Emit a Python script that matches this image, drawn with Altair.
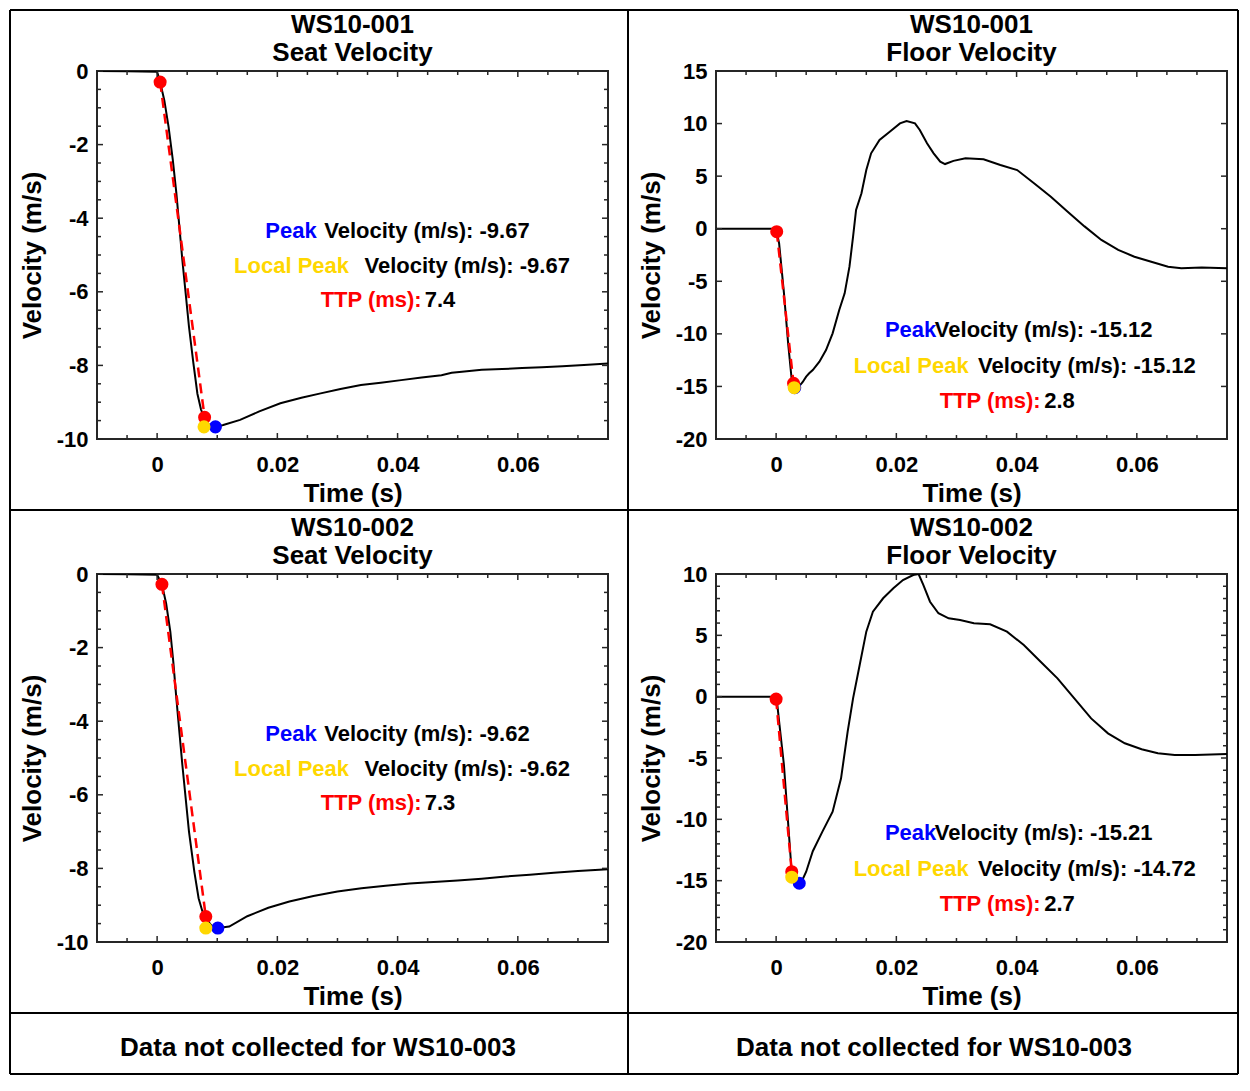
import altair as alt
import pandas as pd

FONT = "Liberation Sans"
BLUE = "#0000FF"
GOLD = "#FFD700"
RED = "#FF0000"
AXC = "#262626"

W, H = 511, 368

# ---------------- data ----------------
X_DOMAIN = [-0.01, 0.075]
X_MAJOR = [0.0, 0.02, 0.04, 0.06]
X_MINOR = [-0.005, 0.005, 0.01, 0.015, 0.025, 0.03, 0.035, 0.045, 0.05, 0.055, 0.065, 0.07]

SEAT_Y_MAJOR = [0, -2, -4, -6, -8, -10]
SEAT_Y_MINOR = [-0.5, -1, -1.5, -2.5, -3, -3.5, -4.5, -5, -5.5, -6.5, -7, -7.5, -8.5, -9, -9.5]
FLOOR1_Y_MAJOR = [15, 10, 5, 0, -5, -10, -15, -20]
FLOOR2_Y_MAJOR = [10, 5, 0, -5, -10, -15, -20]
FLOOR2_Y_MINOR = [9, 8, 7, 6, 4, 3, 2, 1, -1, -2, -3, -4, -6, -7, -8, -9, -11, -12, -13, -14, -16, -17, -18, -19]

SEAT1_T = [-0.0100, -0.0050, 0.0000, 0.0005, 0.0012, 0.0019, 0.0026, 0.0032, 0.0042, 0.0053,
           0.0060, 0.0067, 0.0073, 0.0078, 0.0085, 0.0097, 0.0110, 0.0138, 0.0170, 0.0205,
           0.0240, 0.0272, 0.0305, 0.0339, 0.0372, 0.0406, 0.0440, 0.0473, 0.0490, 0.0507,
           0.0540, 0.0574, 0.0607, 0.0640, 0.0674, 0.0710, 0.0750]
SEAT1_V = [0.00, -0.01, -0.02, -0.30, -0.80, -1.51, -2.40, -3.32, -5.14, -6.95,
           -7.90, -8.77, -9.20, -9.41, -9.60, -9.67, -9.62, -9.48, -9.25, -9.03,
           -8.88, -8.76, -8.64, -8.53, -8.47, -8.40, -8.33, -8.27, -8.20, -8.17,
           -8.12, -8.10, -8.07, -8.05, -8.02, -7.99, -7.95]

SEAT2_T = [-0.0100, -0.0050, 0.0000, 0.0008, 0.0015, 0.0022, 0.0027, 0.0032, 0.0042, 0.0053,
           0.0062, 0.0069, 0.0075, 0.0081, 0.0090, 0.0101, 0.0120, 0.0150, 0.0185, 0.0220,
           0.0260, 0.0300, 0.0340, 0.0380, 0.0420, 0.0460, 0.0500, 0.0540, 0.0580, 0.0620,
           0.0660, 0.0700, 0.0750]
SEAT2_V = [0.00, -0.01, -0.02, -0.28, -0.80, -1.57, -2.40, -3.38, -5.19, -7.00,
           -8.10, -8.81, -9.15, -9.35, -9.55, -9.62, -9.58, -9.30, -9.07, -8.90,
           -8.75, -8.63, -8.54, -8.47, -8.41, -8.37, -8.33, -8.28, -8.22, -8.17,
           -8.12, -8.07, -8.02]

FLOOR1_T = [-0.0100, 0.0000, 0.0001, 0.0005, 0.0013, 0.0020, 0.0026, 0.0029, 0.0031, 0.0038,
            0.0044, 0.0050, 0.0055, 0.0061, 0.0072, 0.0083, 0.0094, 0.0105, 0.0114, 0.0122,
            0.0128, 0.0133, 0.0142, 0.0150, 0.0158, 0.0172, 0.0189, 0.0206, 0.0217, 0.0231,
            0.0239, 0.0251, 0.0262, 0.0273, 0.0281, 0.0295, 0.0315, 0.0345, 0.0373, 0.0401,
            0.0429, 0.0457, 0.0485, 0.0513, 0.0541, 0.0569, 0.0596, 0.0624, 0.0652, 0.0674,
            0.0708, 0.0750]
FLOOR1_V = [0.00, 0.00, -0.28, -1.40, -6.10, -10.90, -14.40, -14.80, -15.12, -15.00,
            -14.60, -14.07, -13.75, -13.44, -12.65, -11.54, -9.95, -7.73, -6.15, -3.61,
            -0.76, 1.78, 3.37, 5.58, 7.17, 8.44, 9.23, 10.02, 10.24, 10.02,
            9.39, 8.12, 7.17, 6.38, 6.15, 6.45, 6.70, 6.60, 6.06, 5.58,
            4.32, 3.05, 1.62, 0.22, -1.07, -2.02, -2.66, -3.14, -3.61, -3.77,
            -3.68, -3.77]

FLOOR2_T = [-0.0100, 0.0000, 0.0001, 0.0005, 0.0013, 0.0019, 0.0025, 0.0027, 0.0032, 0.00385,
            0.0045, 0.0050, 0.0061, 0.0077, 0.0094, 0.0108, 0.0119, 0.0128, 0.0139, 0.0150,
            0.0161, 0.0178, 0.0195, 0.0211, 0.0228, 0.0237, 0.0245, 0.0256, 0.0270, 0.0287,
            0.0306, 0.0329, 0.0356, 0.0384, 0.0412, 0.0440, 0.0468, 0.0496, 0.0524, 0.0552,
            0.0580, 0.0608, 0.0635, 0.0663, 0.0697, 0.0750]
FLOOR2_V = [0.00, 0.00, -0.20, -2.04, -5.57, -9.65, -13.70, -14.50, -15.00, -15.21,
            -14.80, -14.27, -12.60, -11.00, -9.38, -6.66, -2.85, -0.14, 2.58, 5.30,
            6.93, 8.02, 8.83, 9.51, 9.92, 10.00, 9.10, 7.74, 6.80, 6.39,
            6.25, 5.98, 5.90, 5.30, 4.21, 2.85, 1.49, -0.14, -1.77, -2.99,
            -3.80, -4.29, -4.62, -4.76, -4.76, -4.67]

# markers: red onset/peak-time points, local peak (yellow), peak (blue)
SEAT1_RED_T, SEAT1_RED_V = [0.0005, 0.0079], [-0.30, -9.41]
SEAT1_LOCAL, SEAT1_PEAK = (0.0078, -9.67), (0.0097, -9.67)
FLOOR1_RED_T, FLOOR1_RED_V = [0.0001, 0.0029], [-0.28, -14.70]
FLOOR1_LOCAL, FLOOR1_PEAK = (0.0030, -15.12), (0.0031, -15.12)
SEAT2_RED_T, SEAT2_RED_V = [0.0008, 0.0081], [-0.28, -9.31]
SEAT2_LOCAL, SEAT2_PEAK = (0.0081, -9.62), (0.0101, -9.62)
FLOOR2_RED_T, FLOOR2_RED_V = [0.0000, 0.0026], [-0.20, -14.27]
FLOOR2_LOCAL, FLOOR2_PEAK = (0.0026, -14.72), (0.00385, -15.21)

# reported values
PEAK_VALUES = [-9.67, -15.12, -9.62, -15.21]
LOCAL_VALUES = [-9.67, -15.12, -9.62, -14.72]
TTP_VALUES = [7.4, 2.8, 7.3, 2.7]

# annotation anchors (left edges, data coords)
SEAT_TEXT_T = [0.0180, 0.0278, 0.0128, 0.0345, 0.0272, 0.0445]
SEAT_TEXT_V = [-4.35, -4.35, -5.30, -5.30, -6.22, -6.22]
FLOOR_TEXT_T = [0.0181, 0.0264, 0.0129, 0.0336, 0.0272, 0.0446]
FLOOR1_TEXT_V = [-9.63, -9.63, -13.06, -13.06, -16.39, -16.39]
FLOOR2_TEXT_V = [-11.11, -11.11, -14.05, -14.05, -16.90, -16.90]

TITLES = [["WS10-001", "Seat Velocity"], ["WS10-001", "Floor Velocity"],
          ["WS10-002", "Seat Velocity"], ["WS10-002", "Floor Velocity"]]
MISSING_TEXT = ["Data not collected for WS10-003", "Data not collected for WS10-003"]

ONE = pd.DataFrame({"k": [0]})


def axis_x():
    return alt.Axis(values=X_MAJOR, title="Time (s)", labelExpr="'' + datum.value",
                    ticks=False, domain=False, grid=False,
                    labelFont=FONT, labelFontSize=22, labelFontWeight="bold", labelColor="black",
                    labelPadding=15, labelFlush=False, labelOverlap=False,
                    titleFont=FONT, titleFontSize=26, titleFontWeight="bold", titleColor="black",
                    titlePadding=5)


def axis_y(vals):
    return alt.Axis(values=vals, title="Velocity (m/s)", labelExpr="'' + datum.value",
                    ticks=False, domain=False, grid=False,
                    labelFont=FONT, labelFontSize=22, labelFontWeight="bold", labelColor="black",
                    labelPadding=9, labelFlush=False, labelOverlap=False,
                    titleFont=FONT, titleFontSize=26, titleFontWeight="bold", titleColor="black",
                    titlePadding=11)


def panel(idx, t, v, red_t, red_v, local_pt, peak_pt, ydom, ymaj, ymin, text_t, text_v, extra=None):
    xs = alt.Scale(domain=X_DOMAIN, nice=False, zero=False)
    ys = alt.Scale(domain=ydom, nice=False, zero=False)
    X = lambda: alt.X("t:Q", scale=xs, axis=axis_x())
    Y = lambda: alt.Y("v:Q", scale=ys, axis=axis_y(ymaj))
    layers = []
    curve = pd.DataFrame({"t": t, "v": v})
    layers.append(alt.Chart(curve).mark_line(color="black", strokeWidth=2, clip=True).encode(x=X(), y=Y()))
    ttp_df = pd.DataFrame({"t": red_t, "v": red_v})
    layers.append(alt.Chart(ttp_df).mark_line(color=RED, strokeWidth=2.5, strokeDash=[10, 6]).encode(x=X(), y=Y()))
    pts = pd.DataFrame({
        "t": [peak_pt[0], red_t[0], red_t[1], local_pt[0]],
        "v": [peak_pt[1], red_v[0], red_v[1], local_pt[1]],
        "c": [BLUE, RED, RED, GOLD]})
    layers.append(alt.Chart(pts).mark_circle(size=170, opacity=1).encode(
        x=X(), y=Y(), color=alt.Color("c:N", scale=None)))
    txt = pd.DataFrame({
        "t": text_t, "v": text_v,
        "s": ["Peak", f"Velocity (m/s): {PEAK_VALUES[idx]:.2f}",
              "Local Peak", f"Velocity (m/s): {LOCAL_VALUES[idx]:.2f}",
              "TTP (ms):", f"{TTP_VALUES[idx]:.1f}"],
        "c": [BLUE, "black", GOLD, "black", RED, "black"]})
    layers.append(alt.Chart(txt).mark_text(align="left", baseline="middle", font=FONT,
                                           fontSize=22, fontWeight="bold").encode(
        x=X(), y=Y(), text="s:N", color=alt.Color("c:N", scale=None)))
    # inward ticks on all four sides
    for vals, ln in ((X_MAJOR, 6), (X_MINOR, 4)):
        base = alt.Chart(pd.DataFrame({"t": vals})).mark_rule(color=AXC, strokeWidth=1.5)
        layers.append(base.encode(x=X(), y=alt.value(H), y2=alt.value(H - ln)))
        layers.append(base.encode(x=X(), y=alt.value(0), y2=alt.value(ln)))
    for vals, ln in ((ymaj, 6), (ymin, 4)):
        if not vals:
            continue
        base = alt.Chart(pd.DataFrame({"v": vals})).mark_rule(color=AXC, strokeWidth=1.5)
        layers.append(base.encode(y=Y(), x=alt.value(0), x2=alt.value(ln)))
        layers.append(base.encode(y=Y(), x=alt.value(W), x2=alt.value(W - ln)))
    # two-line title
    for line, yy in zip(TITLES[idx], (-46, -18)):
        layers.append(alt.Chart(pd.DataFrame({"s": [line]})).mark_text(
            align="center", baseline="middle", font=FONT, fontSize=26, fontWeight="bold", color="black"
        ).encode(text="s:N", x=alt.value(W / 2), y=alt.value(yy)))
    if extra:
        layers.extend(extra)
    return alt.layer(*layers).properties(width=W, height=H)


def hline(y, x1, x2):
    return alt.Chart(ONE).mark_rule(color="black", strokeWidth=2).encode(
        x=alt.value(x1), x2=alt.value(x2), y=alt.value(y))


def vline(x, y1, y2):
    return alt.Chart(ONE).mark_rule(color="black", strokeWidth=2).encode(
        y=alt.value(y1), y2=alt.value(y2), x=alt.value(x))


# table frame (relative to the first panel's plot area) and the empty third row
LEFT, TOP, RIGHT, BOTTOM = -87, -61, 1141, 1003
frame = [vline(LEFT, TOP, BOTTOM), vline(531, TOP, BOTTOM), vline(RIGHT, TOP, BOTTOM),
         hline(TOP, LEFT, RIGHT), hline(439, LEFT, RIGHT), hline(942, LEFT, RIGHT),
         hline(BOTTOM, LEFT, RIGHT)]
for s, xx in zip(MISSING_TEXT, (221, 837)):
    frame.append(alt.Chart(pd.DataFrame({"s": [s]})).mark_text(
        align="center", baseline="middle", font=FONT, fontSize=26, fontWeight="bold", color="black"
    ).encode(text="s:N", x=alt.value(xx), y=alt.value(977)))

p1 = panel(0, SEAT1_T, SEAT1_V, SEAT1_RED_T, SEAT1_RED_V, SEAT1_LOCAL, SEAT1_PEAK,
           [-10, 0], SEAT_Y_MAJOR, SEAT_Y_MINOR, SEAT_TEXT_T, SEAT_TEXT_V, extra=frame)
p2 = panel(1, FLOOR1_T, FLOOR1_V, FLOOR1_RED_T, FLOOR1_RED_V, FLOOR1_LOCAL, FLOOR1_PEAK,
           [-20, 15], FLOOR1_Y_MAJOR, [], FLOOR_TEXT_T, FLOOR1_TEXT_V)
p3 = panel(2, SEAT2_T, SEAT2_V, SEAT2_RED_T, SEAT2_RED_V, SEAT2_LOCAL, SEAT2_PEAK,
           [-10, 0], SEAT_Y_MAJOR, SEAT_Y_MINOR, SEAT_TEXT_T, SEAT_TEXT_V)
p4 = panel(3, FLOOR2_T, FLOOR2_V, FLOOR2_RED_T, FLOOR2_RED_V, FLOOR2_LOCAL, FLOOR2_PEAK,
           [-20, 10], FLOOR2_Y_MAJOR, FLOOR2_Y_MINOR, FLOOR_TEXT_T, FLOOR2_TEXT_V)

chart = alt.concat(p1, p2, p3, p4, columns=2, spacing={"row": 135, "column": 108},
                   bounds="flush").properties(padding=0, background="white"
).configure(font=FONT, view=alt.ViewConfig(stroke=AXC, strokeWidth=2))

chart.save("out.html", embed_options={"renderer": "svg", "actions": False})
